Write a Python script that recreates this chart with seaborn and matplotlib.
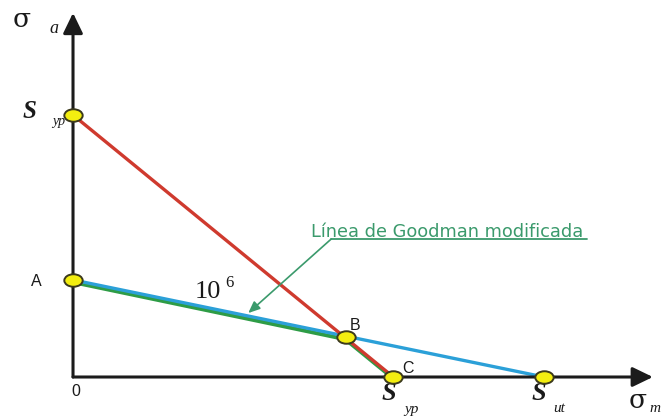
import matplotlib
matplotlib.use("Agg")
import matplotlib.pyplot as plt
from matplotlib.path import Path
from matplotlib.transforms import Affine2D
import seaborn as sns

# Key points of the fatigue diagram (mean stress, alternating stress)
point_labels = ["Syp", "A", "B", "C", "Sut"]
point_x = [0.0, 0.0, 58.0, 68.0, 100.0]
point_y = [68.0, 25.2, 10.4, 0.0, 0.0]

# Yield (Langer) line: Syp on the sigma_a axis to Syp on the sigma_m axis
yield_x = [0.0, 68.0]
yield_y = [68.0, 0.0]

# Goodman line: A to Sut
goodman_x = [0.0, 100.0]
goodman_y = [25.2, 0.0]

# Modified Goodman line: A -> B -> C
mod_goodman_x = [0.0, 57.8, 67.6]
mod_goodman_y = [24.6, 9.8, 0.0]

label_goodman = "Línea de Goodman modificada"
cycles_text = ("10", "6")

RED = "#cf3a2e"
BLUE = "#2ba0d8"
GREEN = "#2e9c46"
NOTE_GREEN = "#3b9a6c"
AXIS = "#1b1b1b"

sns.set_theme(style="white")
plt.rcParams["font.family"] = ["DejaVu Sans"]

fig = plt.figure(figsize=(6.67, 4.18), dpi=100)
ax = fig.add_axes([0, 0, 1, 1])
ax.set_xlim(-15.5, 126.1)
ax.set_ylim(-10.64, 97.85)
ax.axis("off")

# Axes with arrow heads
arrow = dict(arrowstyle="-|>,head_length=0.62,head_width=0.3", lw=2.2,
             color=AXIS, mutation_scale=20, shrinkA=0, shrinkB=0)
ax.annotate("", xy=(0, 94.5), xytext=(0, 0), arrowprops=arrow)
ax.annotate("", xy=(123.1, 0), xytext=(0, 0), arrowprops=arrow)

# Lines
sns.lineplot(x=mod_goodman_x, y=mod_goodman_y, color=GREEN, lw=2.8, sort=False, ax=ax)
sns.lineplot(x=goodman_x, y=goodman_y, color=BLUE, lw=2.4, sort=False, ax=ax)
sns.lineplot(x=yield_x, y=yield_y, color=RED, lw=2.4, sort=False, ax=ax)

# Elliptical point markers
circle = Path.unit_circle()
ellipse = circle.transformed(Affine2D().scale(1.0, 0.68))
sns.scatterplot(x=point_x, y=point_y, marker=ellipse, s=175,
                color="#f3ee10", edgecolor="#3c3a1c", linewidth=1.4,
                ax=ax, zorder=5)

serif = "Liberation Serif"
sigma_font = "DejaVu Serif"
sans = "Liberation Sans"

def put(x, y, s, size, family, style="normal", ha="left", va="baseline",
        color="#1a1a1a", weight="normal"):
    ax.text(x, y, s, fontsize=size, family=family, style=style, ha=ha, va=va,
            color=color, weight=weight, clip_on=False)

# Axis titles
put(-12.9, 90.8, "σ", 19, sigma_font)
put(-4.9, 89.3, "a", 13, serif, style="italic")
put(118.0, -8.1, "σ", 19, sigma_font)
put(122.4, -9.0, "m", 11, serif, style="italic")

# Syp on the vertical axis
put(-10.8, 67.2, "S", 18, serif, style="italic", weight="semibold")
put(-4.5, 65.3, "yp", 10, serif, style="italic")

# Syp and Sut on the horizontal axis
put(65.5, -6.0, "S", 19, serif, style="italic", weight="semibold")
put(70.3, -9.4, "yp", 11, serif, style="italic")
put(97.3, -6.0, "S", 19, serif, style="italic", weight="semibold")
put(101.9, -9.1, "ut", 11, serif, style="italic")

# Point letters
put(-7.9, 24.9, "A", 11.5, sans, ha="center", va="center")
put(0.7, -3.7, "0", 11.5, sans, ha="center", va="center")
put(59.9, 13.3, "B", 11.5, sans, ha="center", va="center")
put(71.1, 2.1, "C", 11.5, sans, ha="center", va="center")

# 10^6 cycles
put(25.9, 20.4, cycles_text[0], 19, serif)
put(32.3, 23.4, cycles_text[1], 12, serif)

# Modified Goodman note with underline and leader arrow
put(50.6, 36.4, label_goodman, 12.8, "DejaVu Sans", color=NOTE_GREEN)
ax.plot([54.8, 109.1], [35.8, 35.8], color=NOTE_GREEN, lw=1.3)
ax.annotate("", xy=(37.2, 16.6), xytext=(54.8, 35.8),
            arrowprops=dict(arrowstyle="-|>,head_length=0.35,head_width=0.15",
                            lw=1.2, color=NOTE_GREEN, mutation_scale=20,
                            shrinkA=0, shrinkB=0))

fig.savefig("out.png", dpi=100)
